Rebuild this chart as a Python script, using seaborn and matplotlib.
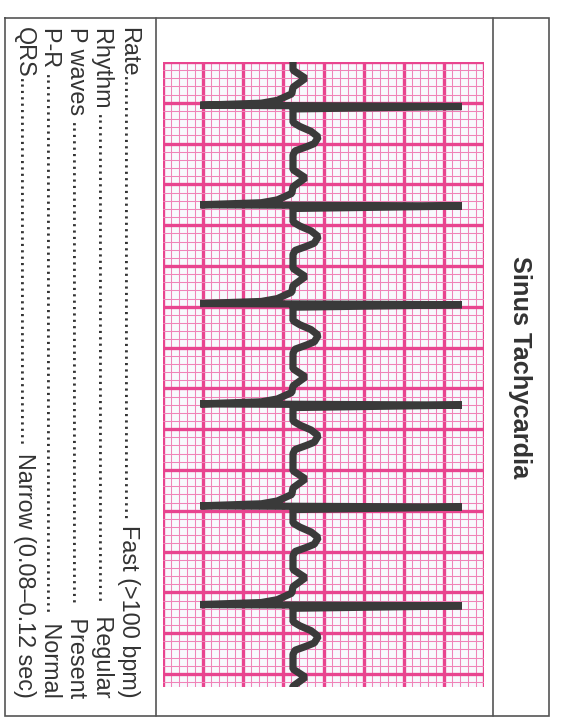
import numpy as np
import pandas as pd
import matplotlib
matplotlib.use("Agg")
import matplotlib.pyplot as plt
import seaborn as sns

# ---------------- data (ECG paper units: 1 small square = 1 mm) ----------------
title = "Sinus Tachycardia"
row_labels = ["Rate", "Rhythm ", "P waves ", "P-R ", "QRS"]
row_values = ["Fast (>100 bpm)", " Regular", " Present", " Normal", "Narrow (0.08\u20130.12 sec)"]

# times of the QRS complexes along the strip (mm)
beat_times = [5.3, 17.5, 29.6, 41.9, 54.4, 66.5, 78.7]
# one beat: time offset from QRS (mm) and amplitude above baseline (mm)
wave_t = [-5.5, -4.3, -3.3, -2.2, -1.4, -0.6, -0.25, 0.0, 0.15, 0.45, 2.1, 2.6, 3.2, 3.9, 4.7, 5.1, 5.6, 6.1, 6.7]
wave_v = [-0.25, -0.25, 1.3, -0.25, -0.4, -2.2, -4.2, -11.8, 20.8, -0.25, -0.25, 0.6, 2.0, 2.9, 2.4, 1.4, 0.0, -0.25, -0.25]
baseline = 16.45
strip_width = 40      # mm across the paper
strip_length = 76.6   # mm along the paper

# ---------------- build trace ----------------
t_all = np.concatenate([bt + np.array(wave_t) for bt in beat_times])
v_all = np.concatenate([np.array(wave_v) for _ in beat_times]) + baseline
df = pd.DataFrame({"amp": v_all, "time": t_all})

sns.set_theme(style="white")
plt.rcParams["font.family"] = ["Liberation Sans", "DejaVu Sans"]

W, H = 564, 727
fig = plt.figure(figsize=(W / 100, H / 100), dpi=100)
fig.patch.set_facecolor("white")

# overlay axes in pixel coordinates for frame + text
ov = fig.add_axes([0, 0, 1, 1])
ov.set_xlim(0, W)
ov.set_ylim(H, 0)
ov.axis("off")

frame_c = "#555555"
ov.plot([5, 549, 549, 5, 5], [18, 18, 716, 716, 18], color=frame_c, lw=1.2, solid_joinstyle="miter")
ov.plot([156, 156], [18, 716], color=frame_c, lw=1.2)
ov.plot([493, 493], [18, 716], color=frame_c, lw=1.2)

txt_c = "#333333"
ov.text(520, 367, title, rotation=-90, rotation_mode="anchor", ha="center", va="center",
        fontsize=18.3, fontweight="bold", color=txt_c)

fs = 16.8
row_base = [122, 96, 70, 44, 18]
lab_objs, val_objs = [], []
for xb, lab, val in zip(row_base, row_labels, row_values):
    lab_objs.append(ov.text(xb, 27, lab, rotation=-90, rotation_mode="anchor",
                            ha="left", va="baseline", fontsize=fs, color=txt_c))
    val_objs.append(ov.text(xb, 698, val, rotation=-90, rotation_mode="anchor",
                            ha="right", va="baseline", fontsize=fs, color=txt_c))
probe = ov.text(-200, 27, "." * 40, rotation=-90, rotation_mode="anchor",
                ha="left", va="baseline", fontsize=fs, color=txt_c)
fig.canvas.draw()
r = fig.canvas.get_renderer()
dot_w = probe.get_window_extent(r).height / 40.0
probe.remove()
for xb, lo, vo in zip(row_base, lab_objs, val_objs):
    lb = lo.get_window_extent(r)
    vb = vo.get_window_extent(r)
    start = H - lb.y0
    end = H - vb.y1
    n = max(int((end - start) / dot_w), 0)
    ov.text(xb, start, "." * n, rotation=-90, rotation_mode="anchor",
            ha="left", va="baseline", fontsize=fs, color=txt_c)

# ECG paper axes
gl, gt, gr, gb = 163, 62, 484, 687
ax = fig.add_axes([gl / W, 1 - gb / H, (gr - gl) / W, (gb - gt) / H])
ax.set_facecolor("#f8f9fd")
ax.set_xlim(0, strip_width)
ax.set_ylim(strip_length, 0)
ax.set_xticks(np.arange(0, strip_width + 0.1, 5))
ax.set_xticks(np.arange(0, strip_width + 0.1, 1), minor=True)
ax.set_yticks(np.arange(0, strip_length, 5))
ax.set_yticks(np.arange(0, strip_length, 1), minor=True)
ax.grid(which="minor", color="#f083b8", lw=0.75)
ax.grid(which="major", color="#e8448f", lw=2.4)
ax.set_axisbelow(True)
ax.tick_params(which="both", length=0, labelbottom=False, labelleft=False)
for s in ax.spines.values():
    s.set_visible(False)

sns.lineplot(data=df, x="amp", y="time", sort=False, estimator=None, ax=ax,
             color="#3a3a3a", lw=5.2, solid_joinstyle="bevel", solid_capstyle="butt")
ax.set_xlabel("")
ax.set_ylabel("")

fig.savefig("out.png", dpi=100)
